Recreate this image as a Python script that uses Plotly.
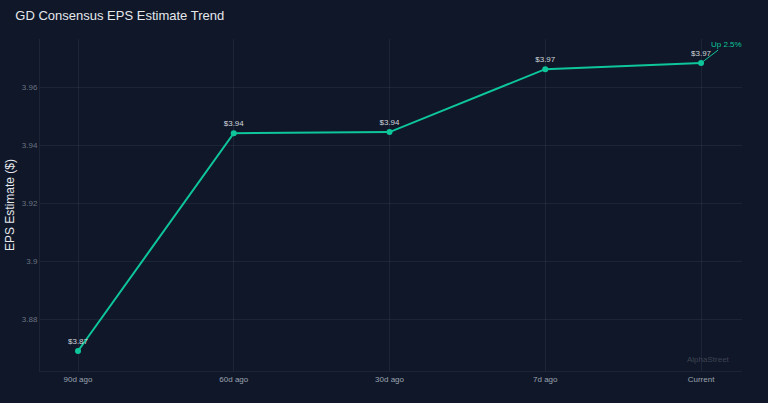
import plotly.graph_objects as go

periods = ["90d ago", "60d ago", "30d ago", "7d ago", "Current"]
eps = [3.869, 3.9441, 3.9445, 3.9662, 3.9683]
labels = ["$3.87", "$3.94", "$3.94", "$3.97", "$3.97"]
change_text = "Up 2.5%"

BG = "#0f1729"
GREEN = "#0ec69a"
GRID = "rgba(255,255,255,0.06)"
FONT = "Arial, Liberation Sans, sans-serif"

fig = go.Figure()
fig.add_trace(go.Scatter(
    x=periods, y=eps, mode="lines+markers+text",
    text=labels, textposition="top center",
    textfont=dict(size=8, color="#d1d5db", family=FONT),
    line=dict(color=GREEN, width=2),
    marker=dict(color=GREEN, size=6),
    hoverinfo="skip", showlegend=False,
))

fig.add_annotation(
    x=periods[-1], y=eps[-1], text=change_text,
    showarrow=True, arrowhead=0, arrowwidth=1, arrowcolor=GREEN,
    ax=25, ay=-19, font=dict(size=8, color=GREEN, family=FONT),
)
fig.add_annotation(
    xref="paper", yref="paper", x=0.952, y=0.036, xanchor="center", yanchor="middle",
    text="AlphaStreet", showarrow=False,
    font=dict(size=8, color="rgba(255,255,255,0.2)", family=FONT),
)

fig.update_layout(
    width=768, height=403,
    paper_bgcolor=BG, plot_bgcolor=BG,
    margin=dict(l=40, r=26, t=39, b=32),
    title=dict(text="GD Consensus EPS Estimate Trend", x=0.02, xanchor="left", y=0.962, yanchor="middle",
               font=dict(size=13, color="#e5e7eb", family=FONT)),
    font=dict(family=FONT),
    xaxis=dict(type="category", range=[-0.244, 4.263], showgrid=True, gridcolor=GRID,
               showline=True, linecolor=GRID, zeroline=False, ticks="", automargin=False,
               tickfont=dict(size=8, color="#9ca3af")),
    yaxis=dict(range=[3.8621, 3.9766], dtick=0.02, tick0=3.88, showgrid=True, gridcolor=GRID,
               showline=True, linecolor=GRID, zeroline=False, ticks="", automargin=False,
               tickfont=dict(size=8, color="#6b7280"),
               title=dict(text="EPS Estimate ($)", font=dict(size=12, color="#e5e7eb"), standoff=4)),
)

fig.write_html("out.html", config={"displayModeBar": False},
               post_script="document.body.style.margin='0';document.body.style.background='#0f1729';document.body.style.overflow='hidden';")
